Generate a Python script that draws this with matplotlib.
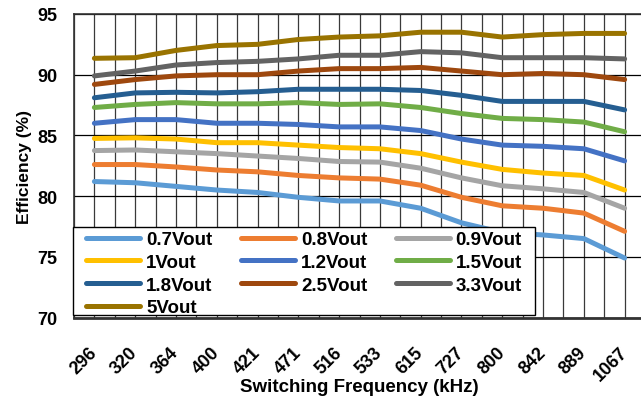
import matplotlib
matplotlib.use("Agg")
import matplotlib.pyplot as plt
from matplotlib.patches import Rectangle
import numpy as np

plt.rcParams['font.family'] = ['Liberation Sans', 'DejaVu Sans']
plt.rcParams['font.weight'] = 'bold'

freqs = ['296', '320', '364', '400', '421', '471', '516', '533', '615', '727', '800', '842', '889', '1067']

v07 = [81.2, 81.1, 80.8, 80.5, 80.3, 79.9, 79.6, 79.6, 79.0, 77.8, 77.0, 76.8, 76.5, 74.9]
v08 = [82.6, 82.6, 82.4, 82.15, 82.0, 81.7, 81.5, 81.4, 80.9, 79.9, 79.2, 79.0, 78.6, 77.1]
v09 = [83.75, 83.8, 83.65, 83.5, 83.3, 83.1, 82.85, 82.8, 82.3, 81.5, 80.85, 80.6, 80.3, 79.0]
v10 = [84.75, 84.8, 84.7, 84.4, 84.4, 84.2, 84.0, 83.9, 83.5, 82.8, 82.2, 81.9, 81.7, 80.5]
v12 = [86.0, 86.3, 86.3, 86.0, 86.0, 85.9, 85.7, 85.7, 85.4, 84.7, 84.2, 84.1, 83.9, 82.9]
v15 = [87.3, 87.55, 87.7, 87.6, 87.6, 87.7, 87.55, 87.6, 87.3, 86.8, 86.4, 86.3, 86.1, 85.3]
v18 = [88.1, 88.5, 88.55, 88.5, 88.6, 88.8, 88.8, 88.8, 88.7, 88.3, 87.8, 87.8, 87.8, 87.1]
v25 = [89.2, 89.6, 89.9, 90.0, 90.0, 90.3, 90.5, 90.5, 90.6, 90.3, 90.0, 90.1, 90.0, 89.6]
v33 = [89.9, 90.3, 90.8, 91.0, 91.1, 91.3, 91.6, 91.6, 91.9, 91.8, 91.4, 91.4, 91.4, 91.3]
v50 = [91.35, 91.4, 92.0, 92.4, 92.5, 92.9, 93.1, 93.2, 93.5, 93.5, 93.1, 93.3, 93.4, 93.4]

names = ['0.7Vout', '0.8Vout', '0.9Vout', '1Vout', '1.2Vout', '1.5Vout',
         '1.8Vout', '2.5Vout', '3.3Vout', '5Vout']
series = [v07, v08, v09, v10, v12, v15, v18, v25, v33, v50]
colors = ['#5B9BD5', '#ED7D31', '#A5A5A5', '#FFC000', '#4472C4', '#70AD47',
          '#255E91', '#9E480E', '#636363', '#997300']

W, H = 641, 406
fig = plt.figure(figsize=(W / 100, H / 100), dpi=100)
ax = fig.add_axes([74 / W, 1 - 318.5 / H, 571 / W, 303.5 / H])

x = np.arange(len(freqs))
lines = {}
for name, vals, c in zip(names, series, colors):
    ln, = ax.plot(x, vals, color=c, lw=3.6, solid_capstyle='round', label=name, zorder=3)
    lines[name] = ln

ax.set_xlim(-0.5, len(freqs) - 0.5)
ax.set_ylim(70, 95)
ax.set_yticks([70, 75, 80, 85, 90, 95])
ax.set_xticks(x)
ax.set_xticklabels(freqs, rotation=45, ha='right', va='center', rotation_mode='anchor')
ax.set_xticks(np.arange(-0.5, len(freqs), 1.0), minor=True)

# grid: every category and every midpoint
ax.grid(True, which='both', axis='x', color='#3a3a3a', lw=0.9, zorder=1)
ax.grid(True, which='major', axis='y', color='black', lw=0.9, zorder=1)
ax.set_axisbelow(True)

ax.tick_params(axis='y', length=0, pad=12, labelsize=13)
ax.tick_params(axis='x', which='major', length=0, pad=23, labelsize=13)
ax.tick_params(axis='x', which='minor', length=0)

for s in ax.spines.values():
    s.set_color('#333333')
    s.set_linewidth(1.2)
ax.spines['bottom'].set_linewidth(2)

ax.set_xlabel('Switching Frequency (kHz)', fontsize=13.5, fontweight='bold')
ax.xaxis.set_label_coords(0.499, -0.2)
ax.set_ylabel('Efficiency (%)', fontsize=12.5, fontweight='bold', labelpad=4)

# legend box drawn separately so the inner padding can match
box = Rectangle((73 / W, 1 - 316 / H), 462 / W, 88 / H, transform=fig.transFigure,
                facecolor='white', edgecolor='black', lw=1, zorder=4, clip_on=False)
ax.add_patch(box)

# excel fills legend row by row, matplotlib column by column
order = ['0.7Vout', '1Vout', '1.8Vout', '5Vout', '0.8Vout', '1.2Vout', '2.5Vout',
         '0.9Vout', '1.5Vout', '3.3Vout']
leg = ax.legend([lines[n] for n in order], order, ncol=3,
                loc='upper left', bbox_to_anchor=(86 / W, 1 - 236 / H, (522 - 86) / W, 0.01),
                bbox_transform=fig.transFigure, mode='expand',
                prop={'size': 13.5, 'weight': 'bold'},
                handlelength=2.9, handletextpad=0.3, labelspacing=0.3,
                borderaxespad=0, borderpad=0, frameon=False)
leg.set_zorder(5)

fig.savefig('out.png', dpi=100)
